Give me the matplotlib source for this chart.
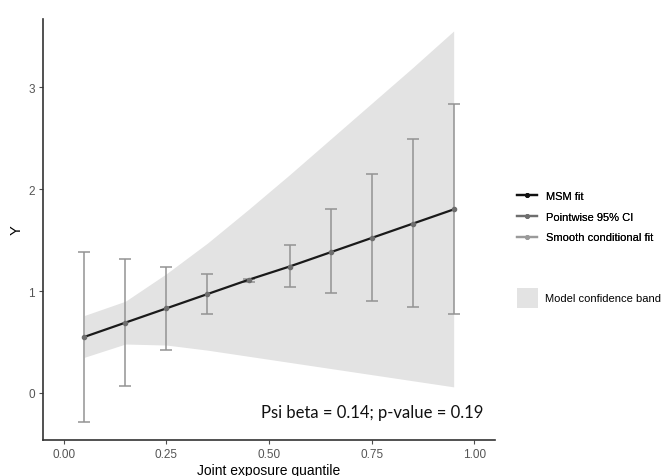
import numpy as np
import matplotlib.pyplot as plt
from matplotlib.lines import Line2D
from matplotlib.patches import Patch

# quantile midpoints
q = [0.05, 0.15, 0.25, 0.35, 0.45, 0.55, 0.65, 0.75, 0.85, 0.95]
# MSM fit
msm = [0.55, 0.69, 0.83, 0.97, 1.11, 1.24, 1.38, 1.52, 1.66, 1.80]
# pointwise 95% CI
ci_lo = [-0.28, 0.07, 0.42, 0.77, 1.09, 1.04, 0.98, 0.90, 0.84, 0.77]
ci_hi = [1.38, 1.31, 1.24, 1.17, 1.12, 1.45, 1.80, 2.15, 2.49, 2.83]
# model confidence band
band_lo = [0.35, 0.48, 0.47, 0.42, 0.36, 0.30, 0.24, 0.18, 0.12, 0.06]
band_hi = [0.76, 0.90, 1.17, 1.47, 1.80, 2.14, 2.49, 2.84, 3.19, 3.55]

xticks = [0.00, 0.25, 0.50, 0.75, 1.00]
xticklabels = ["0.00", "0.25", "0.50", "0.75", "1.00"]
yticks = [0, 1, 2, 3]

plt.rcParams['font.family'] = ['Liberation Sans', 'DejaVu Sans']

fig = plt.figure(figsize=(6.61, 4.77), dpi=100)
ax = fig.add_axes([0.065, 0.0755, 0.684, 0.8825])

ax.fill_between(q, band_lo, band_hi, color='#e3e3e3', lw=0, zorder=1)

q_arr = np.array(q)
msm_arr = np.array(msm)
yerr = [msm_arr - np.array(ci_lo), np.array(ci_hi) - msm_arr]
ax.errorbar(q_arr, msm_arr, yerr=yerr, fmt='none', ecolor='#939393',
            elinewidth=1.1, capsize=4.5, capthick=1.1, zorder=2)
ax.plot(q, msm, color='#1a1a1a', lw=1.6, zorder=3)
ax.plot(q, msm, 'o', color='#6e6e6e', ms=3, zorder=4)

ax.text(0.48, -0.19, "Psi beta = 0.14; p-value = 0.19", fontsize=12,
        family=['Lato', 'DejaVu Sans'], ha='left', va='center', color='#111111')

ax.set_xlim(-0.051, 1.051)
ax.set_ylim(-0.461, 3.667)
ax.set_xticks(xticks)
ax.set_xticklabels(xticklabels)
ax.set_yticks(yticks)
ax.tick_params(colors='#4d4d4d', labelsize=8.5, length=3, width=0.8,
               labelcolor='#555555', pad=3)
ax.set_xlabel("Joint exposure quantile", fontsize=10, labelpad=2)
ax.set_ylabel("Y", fontsize=10.5, labelpad=3)
for s in ['top', 'right']:
    ax.spines[s].set_visible(False)
for s in ['left', 'bottom']:
    ax.spines[s].set_color('#333333')
    ax.spines[s].set_linewidth(1.2)

h1 = [Line2D([], [], color='#111111', lw=1.6, marker='o', ms=2.5),
      Line2D([], [], color='#6e6e6e', lw=1.6, marker='o', ms=2.5),
      Line2D([], [], color='#9a9a9a', lw=1.6, marker='o', ms=2.5)]
leg1 = fig.legend(h1, ["MSM fit", "Pointwise 95% CI", "Smooth conditional fit"],
                  loc='upper left', bbox_to_anchor=(0.776, 0.606), frameon=False,
                  fontsize=8, handlelength=1.8, handletextpad=0.8,
                  labelspacing=0.95, borderaxespad=0)
fig.add_artist(leg1)
fig.legend([Patch(facecolor='#e3e3e3', edgecolor='none')],
           ["Model confidence band"], loc='upper left',
           bbox_to_anchor=(0.776, 0.403), frameon=False, fontsize=8,
           handlelength=1.9, handleheight=2.3, handletextpad=0.6,
           borderaxespad=0)

fig.savefig("out.png", dpi=100)
